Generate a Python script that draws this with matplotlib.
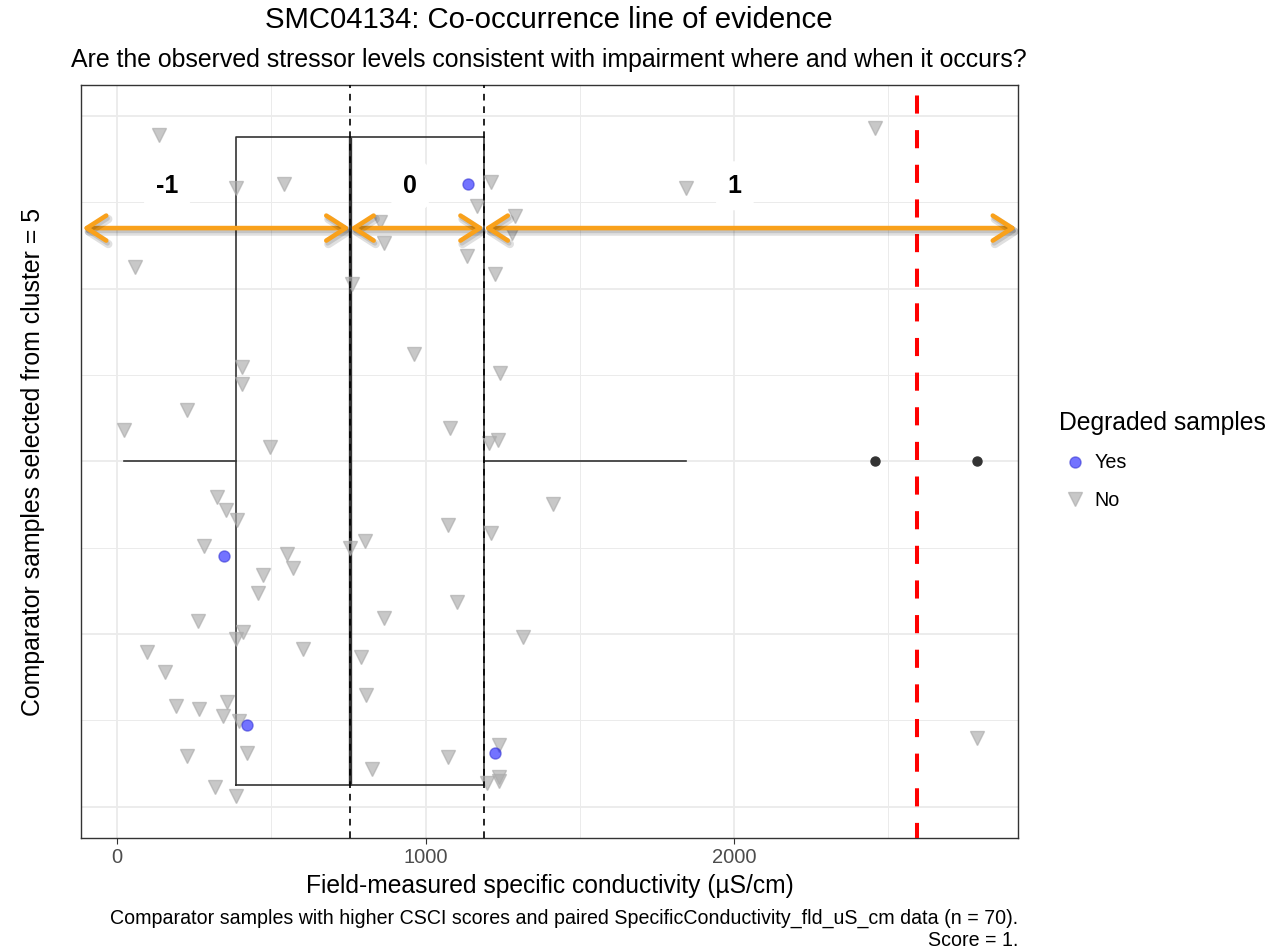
import matplotlib
matplotlib.use("Agg")
import matplotlib.pyplot as plt
from matplotlib import patheffects as pe
from matplotlib.lines import Line2D

plt.rcParams['font.family'] = ['Liberation Sans', 'DejaVu Sans']

# samples not degraded (x = conductivity, y = jittered position around the single group)
no_x = [136, 386, 541, 1212, 1167, 1290, 1280, 853, 865, 1135, 58, 1225, 762,
        963, 405, 405, 1241, 227, 23, 1079, 496, 1235, 1206, 2457, 1844,
        324, 353, 389, 282, 551, 571, 473, 457, 263, 408, 386, 97, 603, 156,
        191, 266, 357, 344, 395, 227, 421, 318, 386, 1073, 755, 804, 1102,
        865, 791, 807, 1073, 827, 1212, 1316, 1413, 1238, 1238, 1238, 1199, 2788]
no_y = [1.378, 1.316, 1.321, 1.323, 1.295, 1.284, 1.264, 1.277, 1.253, 1.238,
        1.225, 1.217, 1.205, 1.124, 1.109, 1.090, 1.102, 1.059, 1.036, 1.039,
        1.016, 1.025, 1.021, 1.386, 1.316,
        0.959, 0.943, 0.932, 0.902, 0.893, 0.876, 0.868, 0.847, 0.815, 0.802,
        0.794, 0.779, 0.782, 0.756, 0.716, 0.713, 0.721, 0.705, 0.699, 0.659,
        0.662, 0.623, 0.612, 0.926, 0.900, 0.908, 0.837, 0.819, 0.773, 0.729,
        0.657, 0.644, 0.917, 0.797, 0.951, 0.671, 0.634, 0.630, 0.627, 0.679]

# degraded samples
yes_x = [1138, 347, 421, 1225]
yes_y = [1.321, 0.890, 0.695, 0.662]

# boxplot summary
box_stats = dict(whislo=23, q1=386, med=755, q3=1190, whishi=1844, fliers=[2457, 2788])

# thresholds and score ranges
threshold = 2593
cut_low, cut_high = 755, 1190
score_labels = ["-1", "0", "1"]
score_label_x = [162, 950, 2003]

orange = "#F9A11B"

fig = plt.figure(figsize=(12.78, 9.52), dpi=100)
ax = fig.add_axes([81 / 1278, 1 - 838 / 952, 937 / 1278, 753 / 952])

ax.set_xlim(-117, 2921)
ax.set_ylim(0.5637, 1.4357)

# grid like theme_bw
for gx in [0, 1000, 2000]:
    ax.axvline(gx, color="#EBEBEB", lw=1.3, zorder=0)
for gx in [500, 1500, 2500]:
    ax.axvline(gx, color="#EBEBEB", lw=0.7, zorder=0)
for gy in [0.6, 0.8, 1.0, 1.2, 1.4]:
    ax.axhline(gy, color="#EBEBEB", lw=1.3, zorder=0)
for gy in [0.7, 0.9, 1.1, 1.3]:
    ax.axhline(gy, color="#EBEBEB", lw=0.7, zorder=0)

# boxplot
st = dict(box_stats)
st["label"] = ""
ax.bxp([st], positions=[1.0], widths=0.75, vert=False, showcaps=False,
       boxprops=dict(color="#333333", lw=1.2),
       whiskerprops=dict(color="#333333", lw=1.2),
       medianprops=dict(color="#333333", lw=2.4),
       flierprops=dict(marker="o", markerfacecolor="#333333", markeredgecolor="#333333",
                       markersize=6.5),
       manage_ticks=False, zorder=2)

# jittered points
ax.plot(no_x, no_y, ls="none", marker="v", ms=10, color="#ABABAB", alpha=0.65,
        mec="#ABABAB", zorder=3)
ax.plot(yes_x, yes_y, ls="none", marker="o", ms=8, color="blue", alpha=0.55,
        mec="#3030D0", zorder=3)

# cut lines
for cx in [cut_low, cut_high]:
    ax.axvline(cx, color="black", lw=1.2, ls=(0, (4, 3.5)), zorder=4)
ax.axvline(threshold, color="red", lw=2.9, ls=(0.75, (4.5, 4.1)), zorder=4)

# score range arrows
x0, x1 = ax.get_xlim()
arrow_y = 1.27
edges = [x0 + 5, cut_low, cut_high, x1 - 5]
for a, b in zip(edges[:-1], edges[1:]):
    ax.annotate("", xy=(b, arrow_y), xytext=(a, arrow_y),
                arrowprops=dict(arrowstyle="<->,head_length=0.7,head_width=0.45",
                                color=orange, lw=3.3, shrinkA=0, shrinkB=0,
                                mutation_scale=20,
                                path_effects=[pe.SimpleLineShadow(offset=(1.5, -2.5),
                                                                  alpha=0.12,
                                                                  linewidth=6),
                                              pe.SimpleLineShadow(offset=(1, -2),
                                                                  alpha=0.12),
                                              pe.Normal()]),
                zorder=5)

for lab, lx in zip(score_labels, score_label_x):
    ax.text(lx, 1.319, lab, ha="center", va="center", fontsize=18, fontweight="bold",
            bbox=dict(boxstyle="round,pad=0.5", fc="white", ec="none"), zorder=6)

for s in ax.spines.values():
    s.set_color("#333333")
    s.set_linewidth(1.0)
ax.set_yticks([])
ax.set_xticks([0, 1000, 2000])
ax.tick_params(axis="x", colors="#333333", length=4, labelsize=14.5, labelcolor="#4D4D4D")

ax.set_xlabel("Field-measured specific conductivity (\u00b5S/cm)", fontsize=17.7, labelpad=5)
ax.set_ylabel("Comparator samples selected from cluster = 5", fontsize=17.9, labelpad=26)

fig.text(549 / 1278, 1 - 20 / 952, "SMC04134: Co-occurrence line of evidence",
         ha="center", va="center", fontsize=21.2)
fig.text(549 / 1278, 1 - 60 / 952,
         "Are the observed stressor levels consistent with impairment where and when it occurs?",
         ha="center", va="center", fontsize=17.9)
fig.text(1018 / 1278, 1 - 929 / 952,
         "Comparator samples with higher CSCI scores and paired SpecificConductivity_fld_uS_cm data (n = 70).\nScore = 1.",
         ha="right", va="center", fontsize=14.1, linespacing=1.2)

handles = [Line2D([], [], ls="none", marker="o", ms=8, color="blue", alpha=0.55, mec="#3030D0"),
           Line2D([], [], ls="none", marker="v", ms=10, color="#ABABAB", alpha=0.65)]
leg = fig.legend(handles, ["Yes", "No"], title="Degraded samples", loc="upper left",
                 bbox_to_anchor=(1041 / 1278, 1 - 393 / 952), frameon=False,
                 fontsize=14.2, title_fontsize=17.8, alignment="left",
                 handlelength=1.6, handletextpad=0.2, labelspacing=0.95)

fig.savefig("out.png", dpi=100)
